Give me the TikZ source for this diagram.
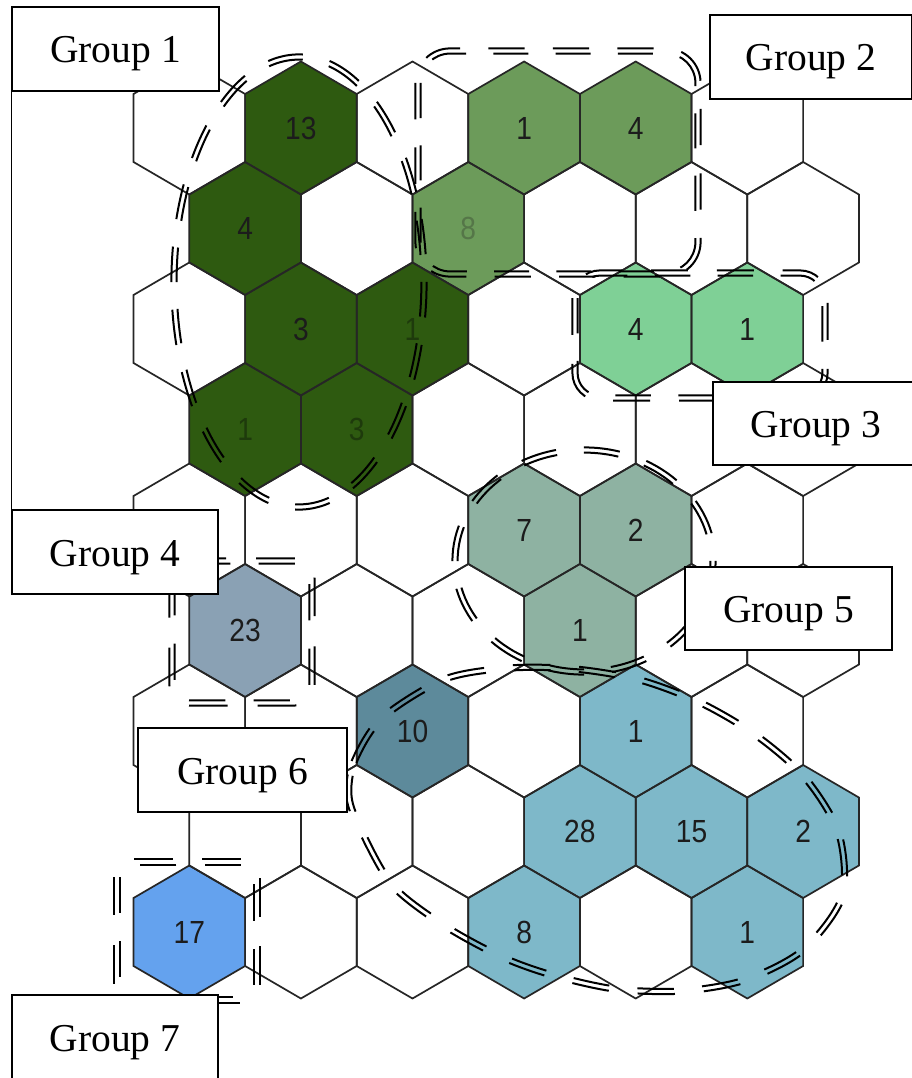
\documentclass[tikz,border=0pt]{standalone}
\usepackage{fontspec}
\setmainfont{Liberation Serif}
\newfontfamily\numfont[FakeStretch=0.88]{Liberation Sans}
\usetikzlibrary{calc}

\definecolor{gA}{RGB}{46,90,16}
\definecolor{gB}{RGB}{108,155,90}
\definecolor{gC}{RGB}{127,208,150}
\definecolor{gE}{RGB}{142,178,162}
\definecolor{gD}{RGB}{138,161,180}
\definecolor{gT}{RGB}{93,138,155}
\definecolor{gF}{RGB}{126,184,201}
\definecolor{gS}{RGB}{100,162,238}
\definecolor{edgec}{RGB}{38,38,38}
\definecolor{numc}{RGB}{28,28,28}
\definecolor{dimg}{RGB}{30,58,12}
\definecolor{eightc}{RGB}{85,118,72}

\newcommand{\hexshape}[2]{({#1+55.8},{#2-34}) -- ({#1},{#2-66.5}) -- ({#1-55.8},{#2-34}) -- ({#1-55.8},{#2+34}) -- ({#1},{#2+66.5}) -- ({#1+55.8},{#2+34}) -- cycle}

\newcommand{\dofsv}{2.6}

% double dashed ellipse: centre x, centre y, x radius, y radius
\newcommand{\dblellipse}[4]{%
  \pgfmathsetmacro\PPm{pi*(3*(#3+#4)-sqrt(3*#3+#4)*sqrt(#3+3*#4))}%
  \pgfmathsetmacro\NN{round(\PPm/64)}%
  \foreach \dofs in {\dofsv,-\dofsv}{%
    \pgfmathsetmacro\elA{#3+\dofs}%
    \pgfmathsetmacro\elB{#4+\dofs}%
    \pgfmathsetmacro\PP{pi*(3*(\elA+\elB)-sqrt(3*\elA+\elB)*sqrt(\elA+3*\elB))}%
    \pgfmathsetmacro\don{\PP/\NN*36/64}%
    \pgfmathsetmacro\doff{\PP/\NN*28/64}%
    \draw[dline, dash pattern=on \don pt off \doff pt] (#1,#2) ellipse [x radius=\elA, y radius=\elB];
  }}

% double dashed rounded rectangle: x1 y1 x2 y2 radius
\newcommand{\dblrect}[5]{%
  \pgfmathsetmacro\PPm{2*(#3-#1+#4-#2)-(8-2*pi)*#5}%
  \pgfmathsetmacro\NN{round(\PPm/64)}%
  \foreach \dofs in {\dofsv,-\dofsv}{%
    \pgfmathsetmacro\PP{\PPm+2*pi*\dofs}%
    \pgfmathsetmacro\don{\PP/\NN*36/64}%
    \pgfmathsetmacro\doff{\PP/\NN*28/64}%
    \pgfmathsetmacro\rr{#5+\dofs}%
    \draw[dline, dash pattern=on \don pt off \doff pt, rounded corners=\rr pt]
      ({#1-\dofs},{#2-\dofs}) rectangle ({#3+\dofs},{#4+\dofs});
  }}

\begin{document}
\begin{tikzpicture}[x=1pt,y=-1pt,
  hexedge/.style={draw=edgec, line width=1.7pt, line join=miter},
  dline/.style={draw=black, line width=2pt},
  num/.style={font=\numfont\fontsize{32}{32}\selectfont, inner sep=0pt},
  gbox/.style={draw=black, fill=white, line width=1.8pt, inner sep=0pt,
    minimum height=84pt, text height=28pt, text depth=0pt,
    font=\fontsize{39.5}{41}\selectfont}]
\useasboundingbox (0,0) rectangle (911,1078);
\fill[white] (0,0) rectangle (911,1078);

% coloured cells
\foreach \r/\c/\col in {1/1/gA,1/3/gB,1/4/gB,2/0/gA,2/2/gB,3/1/gA,3/2/gA,3/4/gC,3/5/gC,
  4/0/gA,4/1/gA,5/3/gE,5/4/gE,6/0/gD,6/3/gE,7/2/gT,7/4/gF,8/3/gF,8/4/gF,8/5/gF,
  9/0/gS,9/3/gF,9/5/gF}{
  \pgfmathsetmacro\hx{189.3+111.6*\c+55.8*(1-mod(\r,2))}
  \pgfmathsetmacro\hy{128+100.5*(\r-1)}
  \fill[\col] \hexshape{\hx}{\hy};
}

% grid
\foreach \r in {1,...,9}{
  \foreach \c in {0,...,5}{
    \pgfmathsetmacro\hx{189.3+111.6*\c+55.8*(1-mod(\r,2))}
    \pgfmathsetmacro\hy{128+100.5*(\r-1)}
    \draw[hexedge] \hexshape{\hx}{\hy};
  }}

% numbers
\foreach \r/\c/\num/\nc in {1/1/13/numc,1/3/1/numc,1/4/4/numc,2/0/4/numc,2/2/8/eightc,
  3/1/3/numc,3/2/1/dimg,3/4/4/numc,3/5/1/numc,4/0/1/dimg,4/1/3/dimg,5/3/7/numc,5/4/2/numc,
  6/0/23/numc,6/3/1/numc,7/2/10/numc,7/4/1/numc,8/3/28/numc,8/4/15/numc,8/5/2/numc,
  9/0/17/numc,9/3/8/numc,9/5/1/numc}{
  \pgfmathsetmacro\hx{189.3+111.6*\c+55.8*(1-mod(\r,2))}
  \pgfmathsetmacro\hy{128+100.5*(\r-1)}
  \node[num, text=\nc] (n\r\c) at (\hx,\hy) {\num};
}

% group outlines (double dashed)
\dblellipse{299}{282}{125}{225}
\dblrect{418}{51}{698}{274}{32}
\dblrect{575}{273}{825}{398}{25}
\dblrect{172}{561}{312}{703}{18}
\dblellipse{584}{561}{129}{111}
\dblrect{117}{862}{257}{1000}{15}

% group 6: smooth closed outline, drawn as two parallel curves
\foreach \px/\py [count=\i] in {349/797,354/762,382/718,445/679,510/668,575/669,640/680,
  701/703,757/736,806/779,839/834,842/897,803/950,745/980,682/991,615/989,552/975,
  502/957,445/926,393/886,361/830}{
  \coordinate (p\i) at (\px,\py);
}
\foreach \i in {1,...,21}{
  \pgfmathtruncatemacro\ip{mod(\i,21)+1}
  \pgfmathtruncatemacro\im{mod(\i+19,21)+1}
  \coordinate (t\i) at ($(p\i)+(p\ip)-(p\im)$);
  \coordinate (po\i) at ($(p\i)!\dofsv pt!90:(t\i)$);
  \coordinate (pq\i) at ($(p\i)!\dofsv pt!-90:(t\i)$);
}
\pgfmathsetmacro\PPm{1310}
\pgfmathsetmacro\NN{round(\PPm/64)}
\pgfmathsetmacro\don{(\PPm+2*pi*\dofsv)/\NN*36/64}
\pgfmathsetmacro\doff{(\PPm+2*pi*\dofsv)/\NN*28/64}
\draw[dline, dash pattern=on \don pt off \doff pt] plot[smooth cycle] coordinates {
  (po1) (po2) (po3) (po4) (po5) (po6) (po7) (po8) (po9) (po10) (po11) (po12) (po13)
  (po14) (po15) (po16) (po17) (po18) (po19) (po20) (po21)};
\pgfmathsetmacro\don{(\PPm-2*pi*\dofsv)/\NN*36/64}
\pgfmathsetmacro\doff{(\PPm-2*pi*\dofsv)/\NN*28/64}
\draw[dline, dash pattern=on \don pt off \doff pt] plot[smooth cycle] coordinates {
  (pq1) (pq2) (pq3) (pq4) (pq5) (pq6) (pq7) (pq8) (pq9) (pq10) (pq11) (pq12) (pq13)
  (pq14) (pq15) (pq16) (pq17) (pq18) (pq19) (pq20) (pq21)};

% labels
\node[gbox, minimum width=207pt] (g1) at (115.5,49) {Group 1};
\node[gbox, minimum width=202pt] (g2) at (811,57) {Group 2};
\node[gbox, minimum width=206pt, minimum height=83pt] (g3) at (816,423.5) {Group 3};
\node[gbox, minimum width=206pt] (g4) at (115,552) {Group 4};
\node[gbox, minimum width=207pt, minimum height=83pt] (g5) at (788.5,608.5) {Group 5};
\node[gbox, minimum width=209pt] (g6) at (242.5,770) {Group 6};
\node[gbox, minimum width=206pt] (g7) at (115,1037) {Group 7};

\draw[black, line width=1.2pt] (g1.south west) -- (g4.north west);
\end{tikzpicture}
\end{document}
